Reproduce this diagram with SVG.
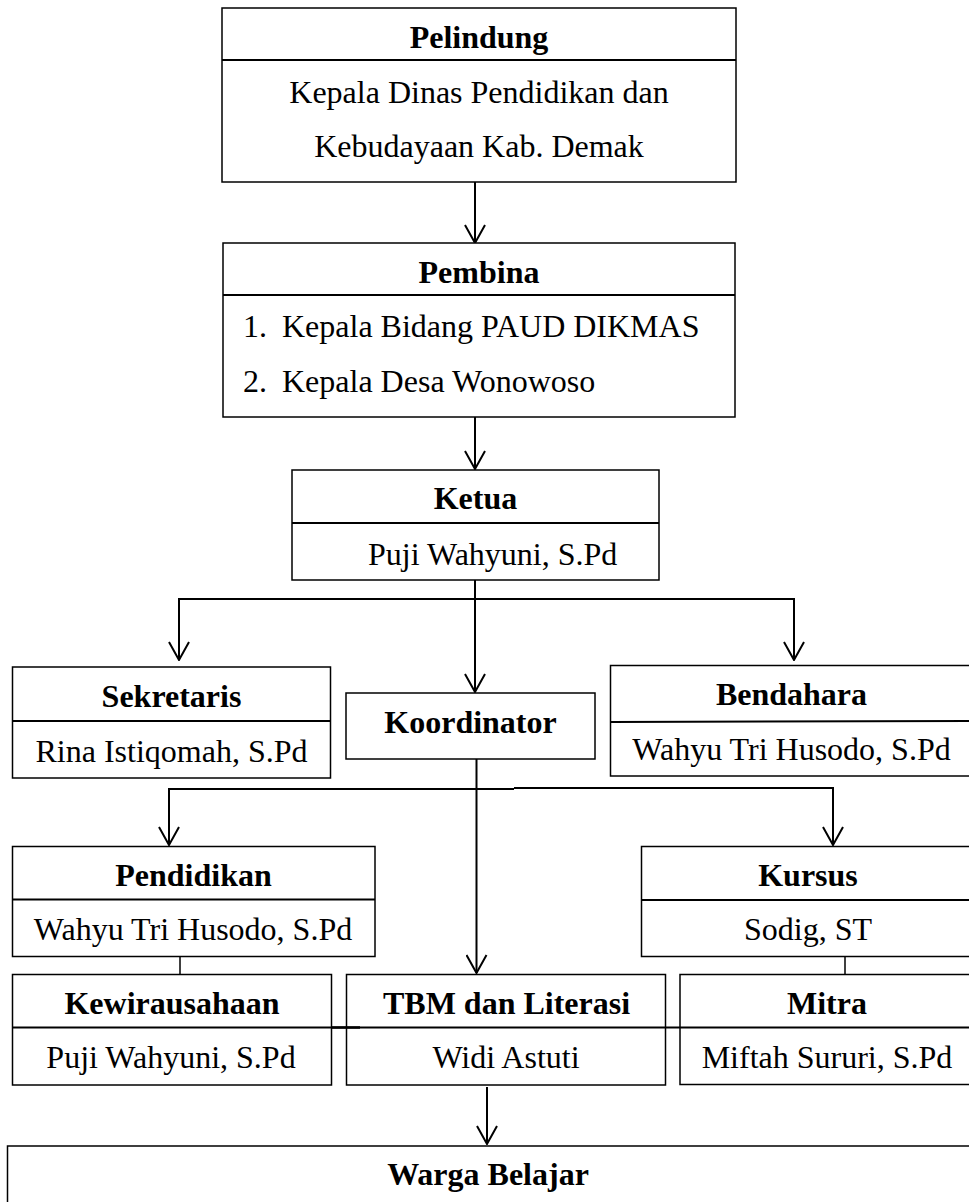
<svg xmlns="http://www.w3.org/2000/svg" width="969" height="1202" viewBox="0 0 969 1202">
<defs>
<style>
.box{fill:#fff;stroke:#000;stroke-width:1.5}
.div{stroke:#000;stroke-width:2;fill:none}
.con{stroke:#000;stroke-width:2;fill:none}
.t{font-family:"Liberation Serif","Times New Roman",serif;font-size:32px;fill:#000}
.b{font-weight:bold;text-anchor:middle}
.c{text-anchor:middle}
</style>
<marker id="arr" viewBox="0 0 20 22" refX="19" refY="11" markerWidth="20" markerHeight="22" markerUnits="userSpaceOnUse" orient="auto-start-reverse">
<path d="M1,1 L19,11 L1,21" fill="none" stroke="#000" stroke-width="2"/>
</marker>
</defs>
<rect width="969" height="1202" fill="#fff"/>

<g id="connectors">
<line class="con" x1="475" y1="182" x2="475" y2="243" marker-end="url(#arr)"/>
<line class="con" x1="475" y1="417" x2="475" y2="469" marker-end="url(#arr)"/>
<line class="con" x1="475" y1="580" x2="475" y2="692" marker-end="url(#arr)"/>
<polyline class="con" points="179,660 179,599 794,599 794,660" marker-start="url(#arr)" marker-end="url(#arr)"/>
<line class="con" x1="476.5" y1="759" x2="476.5" y2="973" marker-end="url(#arr)"/>
<polyline class="con" points="169,845 169,789 514,789" marker-start="url(#arr)"/>
<polyline class="con" points="514,788 833,788 833,845" marker-end="url(#arr)"/>
<line class="con" x1="180" y1="957" x2="180" y2="974" style="stroke-width:1.5"/>
<line class="con" x1="845" y1="957" x2="845" y2="974" style="stroke-width:1.5"/>
<line class="con" x1="487" y1="1087" x2="487" y2="1144" marker-end="url(#arr)"/>
</g>

<g id="pelindung">
<rect class="box" x="222" y="8" width="514" height="174"/>
<line class="div" x1="222" y1="60" x2="736" y2="60"/>
<text class="t b" x="479" y="48">Pelindung</text>
<text class="t c" x="479" y="103">Kepala Dinas Pendidikan dan</text>
<text class="t c" x="479" y="157">Kebudayaan Kab. Demak</text>
</g>

<g id="pembina">
<rect class="box" x="223" y="243" width="512" height="174"/>
<line class="div" x1="223" y1="295" x2="735" y2="295"/>
<text class="t b" x="479" y="283">Pembina</text>
<text class="t" x="243" y="337">1.</text>
<text class="t" x="282" y="337">Kepala Bidang PAUD DIKMAS</text>
<text class="t" x="243" y="392">2.</text>
<text class="t" x="282" y="392">Kepala Desa Wonowoso</text>
</g>

<g id="ketua">
<rect class="box" x="292" y="470" width="367" height="110"/>
<line class="div" x1="292" y1="523" x2="659" y2="523"/>
<text class="t b" x="475.5" y="509">Ketua</text>
<text class="t" x="368" y="565">Puji Wahyuni, S.Pd</text>
</g>

<g id="sekretaris">
<rect class="box" x="12.5" y="667" width="318" height="111"/>
<line class="div" x1="12.5" y1="721" x2="330.5" y2="721"/>
<text class="t b" x="171.5" y="707">Sekretaris</text>
<text class="t c" x="171.5" y="762">Rina Istiqomah, S.Pd</text>
</g>

<g id="koordinator">
<rect class="box" x="346" y="693" width="249" height="66"/>
<text class="t b" x="470.5" y="733">Koordinator</text>
</g>

<g id="bendahara">
<rect class="box" x="610.5" y="665.5" width="363" height="110.5"/>
<line class="div" x1="610.5" y1="722" x2="973" y2="721"/>
<text class="t b" x="791.5" y="705">Bendahara</text>
<text class="t c" x="791.5" y="760">Wahyu Tri Husodo, S.Pd</text>
</g>

<g id="pendidikan">
<rect class="box" x="12.5" y="846.5" width="362.5" height="110"/>
<line class="div" x1="12.5" y1="899.5" x2="375" y2="899.5"/>
<text class="t b" x="193.5" y="886">Pendidikan</text>
<text class="t c" x="193" y="940">Wahyu Tri Husodo, S.Pd</text>
</g>

<g id="kursus">
<rect class="box" x="641.5" y="846.5" width="333.5" height="110"/>
<line class="div" x1="641.5" y1="900" x2="975" y2="900"/>
<text class="t b" x="808" y="886">Kursus</text>
<text class="t c" x="808" y="940">Sodig, ST</text>
</g>

<g id="kewirausahaan">
<rect class="box" x="12.5" y="974.5" width="319" height="110.5"/>
<text class="t b" x="172" y="1014">Kewirausahaan</text>
<text class="t c" x="171" y="1068">Puji Wahyuni, S.Pd</text>
</g>

<g id="tbm">
<rect class="box" x="346.5" y="974.5" width="319" height="110.5"/>
<text class="t b" x="506.5" y="1014">TBM dan Literasi</text>
<text class="t c" x="506" y="1068">Widi Astuti</text>
</g>

<g id="mitra">
<rect class="box" x="680" y="974.5" width="294" height="110"/>
<text class="t b" x="827" y="1014">Mitra</text>
<text class="t c" x="827" y="1068">Miftah Sururi, S.Pd</text>
</g>

<g id="divider-row">
<line class="div" x1="12.5" y1="1027.5" x2="975" y2="1027.5"/>
<line class="div" x1="331" y1="1027.5" x2="360" y2="1027.5" style="stroke-width:2.5"/>
</g>

<g id="warga">
<rect class="box" x="7.5" y="1146" width="970" height="80"/>
<text class="t b" x="488" y="1185">Warga Belajar</text>
</g>
</svg>
